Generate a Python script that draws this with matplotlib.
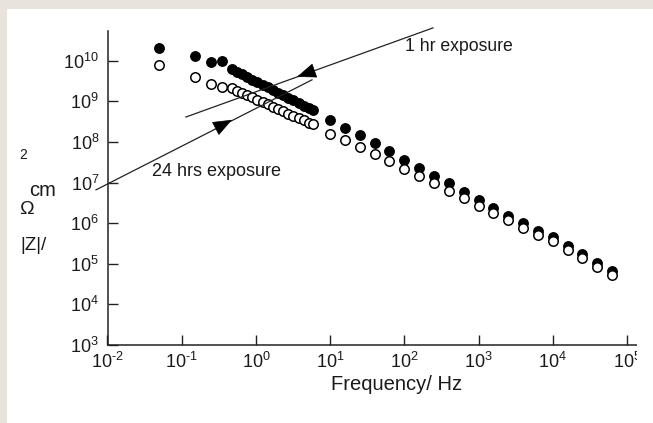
import matplotlib
matplotlib.use("Agg")
import matplotlib.pyplot as plt
from matplotlib.patches import Rectangle, FancyArrowPatch

plt.rcParams['font.family'] = ['Liberation Sans', 'DejaVu Sans']
plt.rcParams['mathtext.fontset'] = 'custom'
plt.rcParams['mathtext.rm'] = 'Liberation Sans'
plt.rcParams['mathtext.it'] = 'Liberation Sans:italic'
plt.rcParams['mathtext.bf'] = 'Liberation Sans:bold'

# frequency (Hz)
freq = [0.05, 0.15, 0.25, 0.35,
        0.47, 0.55, 0.65, 0.76, 0.89, 1.05, 1.23, 1.45, 1.7, 2.0, 2.35, 2.75, 3.2, 3.8, 4.5, 5.2, 5.9,
        10, 15.8, 25.1, 39.8, 63.1, 100, 158, 251, 398, 631, 1000, 1585, 2512, 3981, 6310,
        10000, 15850, 25120, 39810, 63100]

# |Z| after 1 hr exposure (filled)
z_1hr = [2.0e10, 1.3e10, 9.2e9, 1.0e10,
         6.1e9, 5.3e9, 4.6e9, 3.9e9, 3.4e9, 2.9e9, 2.5e9, 2.2e9, 1.9e9, 1.6e9, 1.4e9, 1.2e9, 1.05e9, 9.0e8, 7.8e8, 6.7e8, 6.0e8,
         3.5e8, 2.2e8, 1.5e8, 9.3e7, 6.0e7, 3.6e7, 2.25e7, 1.48e7, 9.6e6, 6.0e6, 3.7e6, 2.4e6, 1.53e6, 1.0e6, 6.5e5,
         4.65e5, 2.75e5, 1.75e5, 1.06e5, 6.6e4]

# |Z| after 24 hrs exposure (open)
z_24hr = [7.9e9, 3.9e9, 2.7e9, 2.3e9,
          2.08e9, 1.82e9, 1.6e9, 1.41e9, 1.24e9, 1.09e9, 9.5e8, 8.4e8, 7.4e8, 6.5e8, 5.7e8, 5.0e8, 4.4e8, 3.8e8, 3.4e8, 2.95e8, 2.7e8,
          1.55e8, 1.12e8, 7.4e7, 5.0e7, 3.4e7, 2.13e7, 1.45e7, 9.6e6, 6.3e6, 4.1e6, 2.65e6, 1.8e6, 1.2e6, 7.4e5, 5.0e5,
          3.6e5, 2.2e5, 1.4e5, 8.5e4, 5.3e4]

x_ticks = [1e-2, 1e-1, 1e0, 1e1, 1e2, 1e3, 1e4, 1e5]
x_labels = ['-2', '-1', '0', '1', '2', '3', '4', '5']
y_ticks = [1e3, 1e4, 1e5, 1e6, 1e7, 1e8, 1e9, 1e10]
y_labels = ['3', '4', '5', '6', '7', '8', '9', '10']


def sup(e):
    # hyphen rather than a long minus, like the original
    e = e.replace('-', r'\text{-}')
    return r'$\mathregular{10^{%s}}$' % e


W, H = 653, 423
fig = plt.figure(figsize=(W / 100, H / 100), dpi=100, facecolor='#e8e4dd')
# white panel
fig.patches.append(Rectangle((7 / W, 0), 1, 1 - 9 / H, transform=fig.transFigure,
                             facecolor='white', edgecolor='none', zorder=-10))
# original chart is cropped on the right
fig.patches.append(Rectangle((637 / W, 0), 1, 1 - 9 / H, transform=fig.transFigure,
                             facecolor='white', edgecolor='none', zorder=10))

x0, x1 = 107.5, 664.0
y0, y1 = 345.0, 31.0
ax = fig.add_axes([x0 / W, 1 - y0 / H, (x1 - x0) / W, (y0 - y1) / H])
ax.set_zorder(2)
ax.set_facecolor('none')
ax.set_xscale('log')
ax.set_yscale('log')
ax.set_xlim(1e-2, 10 ** 5.5)
ax.set_ylim(1e3, 10 ** 10.73)

ax.plot(freq, z_1hr, 'o', ms=6.8, mfc='black', mec='black', mew=1.0, zorder=3, clip_on=False)
ax.plot(freq, z_24hr, 'o', ms=6.8, mfc='white', mec='black', mew=1.1, zorder=4, clip_on=False)

for s in ['top', 'right']:
    ax.spines[s].set_visible(False)
for s in ['left', 'bottom']:
    ax.spines[s].set_linewidth(1.1)
    ax.spines[s].set_color('#222222')

ax.set_xticks(x_ticks)
ax.set_xticklabels([sup(l) for l in x_labels])
ax.set_yticks(y_ticks)
ax.set_yticklabels([sup(l) for l in y_labels])
ax.minorticks_off()
ax.tick_params(axis='both', direction='in', length=7, width=1.0, color='#222222',
               labelsize=13, labelcolor='#1a1a1a')
ax.tick_params(axis='x', pad=5)
ax.tick_params(axis='y', pad=6)

# annotation lines
line_1hr = ([243.8, 0.114], [6.4e10, 4.1e8])
line_24hr = ([0.0070, 5.7], [6.6e6, 3.37e9])
ax.plot(*line_1hr, color='#222222', lw=0.9, zorder=5, clip_on=False)
ax.plot(*line_24hr, color='#222222', lw=0.9, zorder=5, clip_on=False)
for tail, tip in [((5.36, 5.2e9), (3.58, 4.0e9)), ((0.323, 2.4e8), (0.477, 3.5e8))]:
    ax.add_patch(FancyArrowPatch(tail, tip, arrowstyle='-|>,head_length=0.9,head_width=0.35',
                                 mutation_scale=14, color='black', lw=0.5,
                                 shrinkA=0, shrinkB=0, zorder=6))

ax.text(102, 2.19e10, '1 hr exposure', fontsize=12.7, ha='left', va='center', color='#1a1a1a')
ax.text(0.0398, 1.82e7, '24 hrs exposure', fontsize=13, ha='left', va='center', color='#1a1a1a')

fig.text(397 / W, 1 - 384 / H, 'Frequency/ Hz', fontsize=14.5, ha='center', va='center', color='#1a1a1a')

# y label pieces as laid out in the original
fig.text(23 / W, 1 - 155 / H, '2', fontsize=10, ha='center', va='center', color='#1a1a1a')
fig.text(43 / W, 1 - 190 / H, 'cm', fontsize=14.5, ha='center', va='center', color='#1a1a1a')
fig.text(26 / W, 1 - 209 / H, 'Ω', fontsize=14, ha='center', va='center', color='#1a1a1a')
fig.text(34 / W, 1 - 245 / H, '|Z|/', fontsize=13.5, ha='center', va='center', color='#1a1a1a')

fig.savefig('out.png', dpi=100, facecolor=fig.get_facecolor())
